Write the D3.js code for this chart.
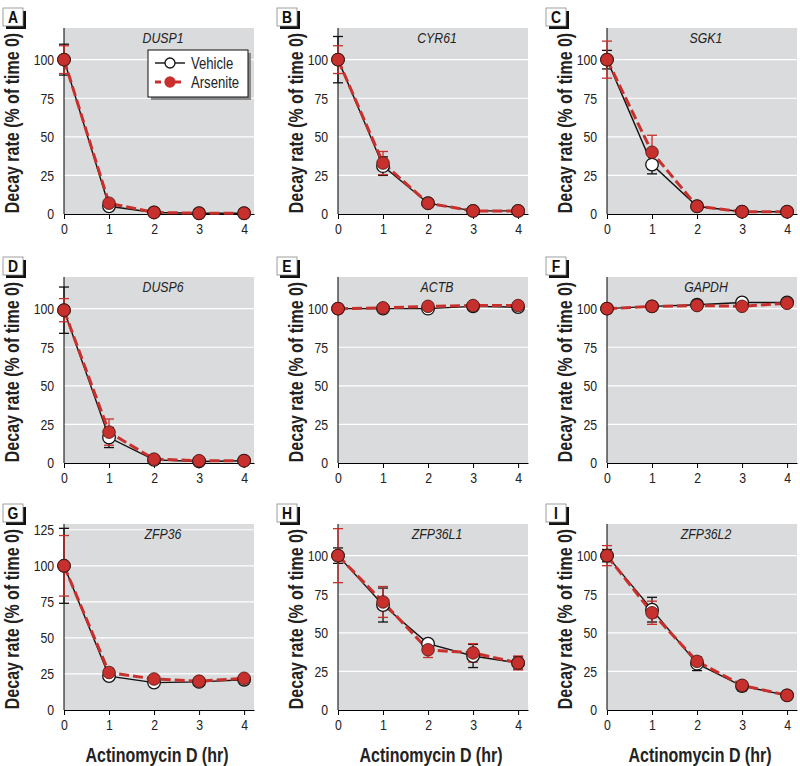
<!DOCTYPE html>
<html>
<head>
<meta charset="utf-8">
<script src="https://cdn.jsdelivr.net/npm/d3@7"></script>
<style>
  body { margin: 0; background: #fff; }
  text { font-family: "Liberation Sans", Arial, sans-serif; }
</style>
</head>
<body>
<svg id="chart" width="800" height="766"></svg>
<script>
// data
var times = [0, 1, 2, 3, 4]
var letters = ['A', 'B', 'C', 'D', 'E', 'F', 'G', 'H', 'I']
var genes = ['DUSP1', 'CYR61', 'SGK1', 'DUSP6', 'ACTB', 'GAPDH', 'ZFP36', 'ZFP36L1', 'ZFP36L2']
var yTicks = [0, 25, 50, 75, 100]
var yTicksG = [0, 25, 50, 75, 100, 125]
var xTicks = [0, 1, 2, 3, 4]

var vehicleMean = [
  [100, 5, 1, 0.5, 0.5],
  [100, 31, 7, 2, 2],
  [100, 32, 5, 1.5, 1.5],
  [99, 16.5, 2, 1, 1.5],
  [100, 100, 100, 101.5, 101],
  [100, 101.5, 102.5, 104, 104],
  [100, 23.5, 19, 19.5, 21],
  [100, 68, 43, 35, 30.5],
  [100, 65, 30, 15.5, 9.5]
]
var vehicleErr = [
  [10, 1, 0.5, 0.5, 0.5],
  [15, 6, 1, 0.5, 0.5],
  [6, 6, 1, 0.5, 0.5],
  [15, 6.5, 1, 0.5, 0.5],
  [0.5, 1, 1, 1, 1],
  [0.5, 1, 1, 1, 1],
  [26, 2, 1.5, 1.5, 1.5],
  [5, 11, 2, 7.5, 4],
  [4, 8, 4.5, 3, 1]
]
var arseniteMean = [
  [100, 7, 1, 0.5, 0.5],
  [100, 33, 7, 2, 2],
  [100, 40, 5, 1.5, 1.5],
  [99, 20, 2.5, 1.5, 1.5],
  [100, 100.5, 101.5, 102, 102],
  [100, 101.5, 102, 101.5, 103.5],
  [100, 26, 21.5, 20, 22],
  [100, 70, 39, 37, 30.5],
  [100, 63, 31.5, 16, 9.5]
]
var arseniteErr = [
  [9, 1.5, 0.5, 0.5, 0.5],
  [9, 7.5, 1, 0.5, 0.5],
  [12, 11, 1, 0.5, 0.5],
  [7.5, 8.5, 1, 0.5, 0.5],
  [0.5, 1, 1, 1, 1],
  [0.5, 1, 1, 1, 1],
  [21, 3, 2, 1.5, 2],
  [17.5, 10, 5, 6, 4.5],
  [6.5, 7.5, 3, 2, 1]
]

var RED = '#c8302d'
var GRAY = '#d9dbdc'
var NARROW = 0.82 // squeeze Liberation Sans to look like a condensed face
var colLeft = [64, 338, 607]
var rowTop = [28, 277, 524]
var plotW = 190
var plotH = 186

var svg = d3.select('#chart')

// text squeezed horizontally around its anchor point
function ntext (parent, px, py, rot) {
  return parent.append('text')
    .attr('transform', 'translate(' + px + ',' + py + ')' + (rot ? ' rotate(' + rot + ')' : '') + ' scale(' + NARROW + ',1)')
}

function drawPanel (i) {
  var col = i % 3
  var row = Math.floor(i / 3)
  var x0 = colLeft[col]
  var y0 = rowTop[row]
  var isG = genes[i] === 'ZFP36'
  var ticks = isG ? yTicksG : yTicks

  var x = d3.scaleLinear().domain([0, 4.22]).range([0, plotW])
  var y = d3.scaleLinear().domain([0, isG ? 129 : 120.5]).range([plotH, 0])

  var g = svg.append('g').attr('transform', 'translate(' + x0 + ',' + y0 + ')')

  g.append('rect').attr('width', plotW).attr('height', plotH).attr('fill', GRAY)

  // white grid lines
  g.selectAll('.grid').data(ticks.filter(function (t) { return t > 0 }))
    .enter().append('line')
    .attr('x1', 0).attr('x2', plotW)
    .attr('y1', function (d) { return y(d) }).attr('y2', function (d) { return y(d) })
    .attr('stroke', '#fff').attr('stroke-width', 1.2)

  // gene name
  ntext(g, plotW / 2 + 4, 15).attr('text-anchor', 'middle').attr('font-style', 'italic')
    .attr('font-size', 15).attr('fill', '#222').text(genes[i])

  // axes
  var yAxis = g.append('g').call(d3.axisLeft(y).tickValues(ticks).tickFormat(d3.format('d')).tickSize(0).tickPadding(12))
  yAxis.select('.domain').remove()
  yAxis.selectAll('text').attr('font-size', 15).attr('fill', '#222')
    .attr('transform', 'scale(' + NARROW + ',1)')
  g.append('line').attr('x1', 0).attr('x2', 0).attr('y1', 0).attr('y2', plotH)
    .attr('stroke', '#000').attr('stroke-width', 1)

  var xAxis = g.append('g').attr('transform', 'translate(0,' + plotH + ')')
    .call(d3.axisBottom(x).tickValues(xTicks).tickFormat(d3.format('d')).tickSize(5).tickSizeOuter(0).tickPadding(4))
  xAxis.select('.domain').attr('stroke', '#000')
  xAxis.selectAll('text').attr('font-size', 15).attr('fill', '#222')
    .attr('transform', 'scale(' + NARROW + ',1)')

  var series = [
    { mean: vehicleMean[i], err: vehicleErr[i], color: '#111', fill: '#fff', dash: null, width: 1.4 },
    { mean: arseniteMean[i], err: arseniteErr[i], color: RED, fill: RED, dash: '10,4', width: 3 }
  ]

  series.forEach(function (s) {
    var pts = times.map(function (t, k) { return { t: t, v: s.mean[k], e: s.err[k] } })
    var eb = g.append('g').attr('stroke', s.color).attr('stroke-width', 1.3)
    pts.forEach(function (p) {
      eb.append('line').attr('x1', x(p.t)).attr('x2', x(p.t))
        .attr('y1', y(p.v - p.e)).attr('y2', y(p.v + p.e))
      ;[p.v - p.e, p.v + p.e].forEach(function (v) {
        eb.append('line').attr('x1', x(p.t) - 5).attr('x2', x(p.t) + 5)
          .attr('y1', y(v)).attr('y2', y(v))
      })
    })
    g.append('path').datum(pts)
      .attr('fill', 'none').attr('stroke', s.color).attr('stroke-width', s.width)
      .attr('stroke-dasharray', s.dash)
      .attr('d', d3.line().x(function (d) { return x(d.t) }).y(function (d) { return y(d.v) }))
  })

  series.forEach(function (s, si) {
    g.selectAll('.m' + si).data(times).enter().append('circle')
      .attr('cx', function (d) { return x(d) })
      .attr('cy', function (d, k) { return y(s.mean[k]) })
      .attr('r', 6.3)
      .attr('fill', s.fill)
      .attr('stroke', si === 0 ? '#111' : '#4a1512').attr('stroke-width', si === 0 ? 1.3 : 0.8)
  })

  // y axis title
  var tx = col === 0 ? -52 : -42
  ntext(g, tx, plotH / 2 + 2, -90)
    .attr('text-anchor', 'middle').attr('dy', '0.35em')
    .attr('font-size', 19.5).attr('font-weight', 'bold').attr('fill', '#222')
    .text('Decay rate (% of time 0)')

  // panel letter box
  var bx = -61
  var by = -20
  g.append('rect').attr('x', bx + 3).attr('y', by + 3).attr('width', 20).attr('height', 18).attr('fill', '#111')
  g.append('rect').attr('x', bx).attr('y', by).attr('width', 20).attr('height', 18)
    .attr('fill', '#fff').attr('stroke', '#888').attr('stroke-width', 0.8)
  ntext(g, bx + 10, by + 15).attr('text-anchor', 'middle')
    .attr('font-size', 17).attr('font-weight', 'bold').attr('fill', '#111').text(letters[i])

  if (row === 2) {
    ntext(g, plotW / 2 - 2, plotH + 52)
      .attr('text-anchor', 'middle').attr('font-size', 19.5).attr('font-weight', 'bold')
      .attr('fill', '#222').text('Actinomycin D (hr)')
  }

  if (i === 0) drawLegend(g)
}

function drawLegend (g) {
  var lg = g.append('g').attr('transform', 'translate(84,22)')
  lg.append('rect').attr('x', 3).attr('y', 3).attr('width', 100).attr('height', 47).attr('fill', '#8a8a8a')
  lg.append('rect').attr('width', 100).attr('height', 47).attr('fill', '#fff')
    .attr('stroke', '#111').attr('stroke-width', 1)
  var items = [
    { name: 'Vehicle', color: '#111', fill: '#fff', dash: null, width: 1.4, yy: 13 },
    { name: 'Arsenite', color: RED, fill: RED, dash: '6,4', width: 3, yy: 32 }
  ]
  items.forEach(function (d) {
    lg.append('line').attr('x1', 7).attr('x2', 37).attr('y1', d.yy).attr('y2', d.yy)
      .attr('stroke', d.color).attr('stroke-width', d.width).attr('stroke-dasharray', d.dash)
    lg.append('circle').attr('cx', 22).attr('cy', d.yy).attr('r', 5)
      .attr('fill', d.fill).attr('stroke', d.color).attr('stroke-width', 1.3)
    ntext(lg, 43, d.yy).attr('dy', '0.35em')
      .attr('font-size', 16).attr('fill', '#222').text(d.name)
  })
}

genes.forEach(function (gName, i) { drawPanel(i) })
</script>
</body>
</html>
